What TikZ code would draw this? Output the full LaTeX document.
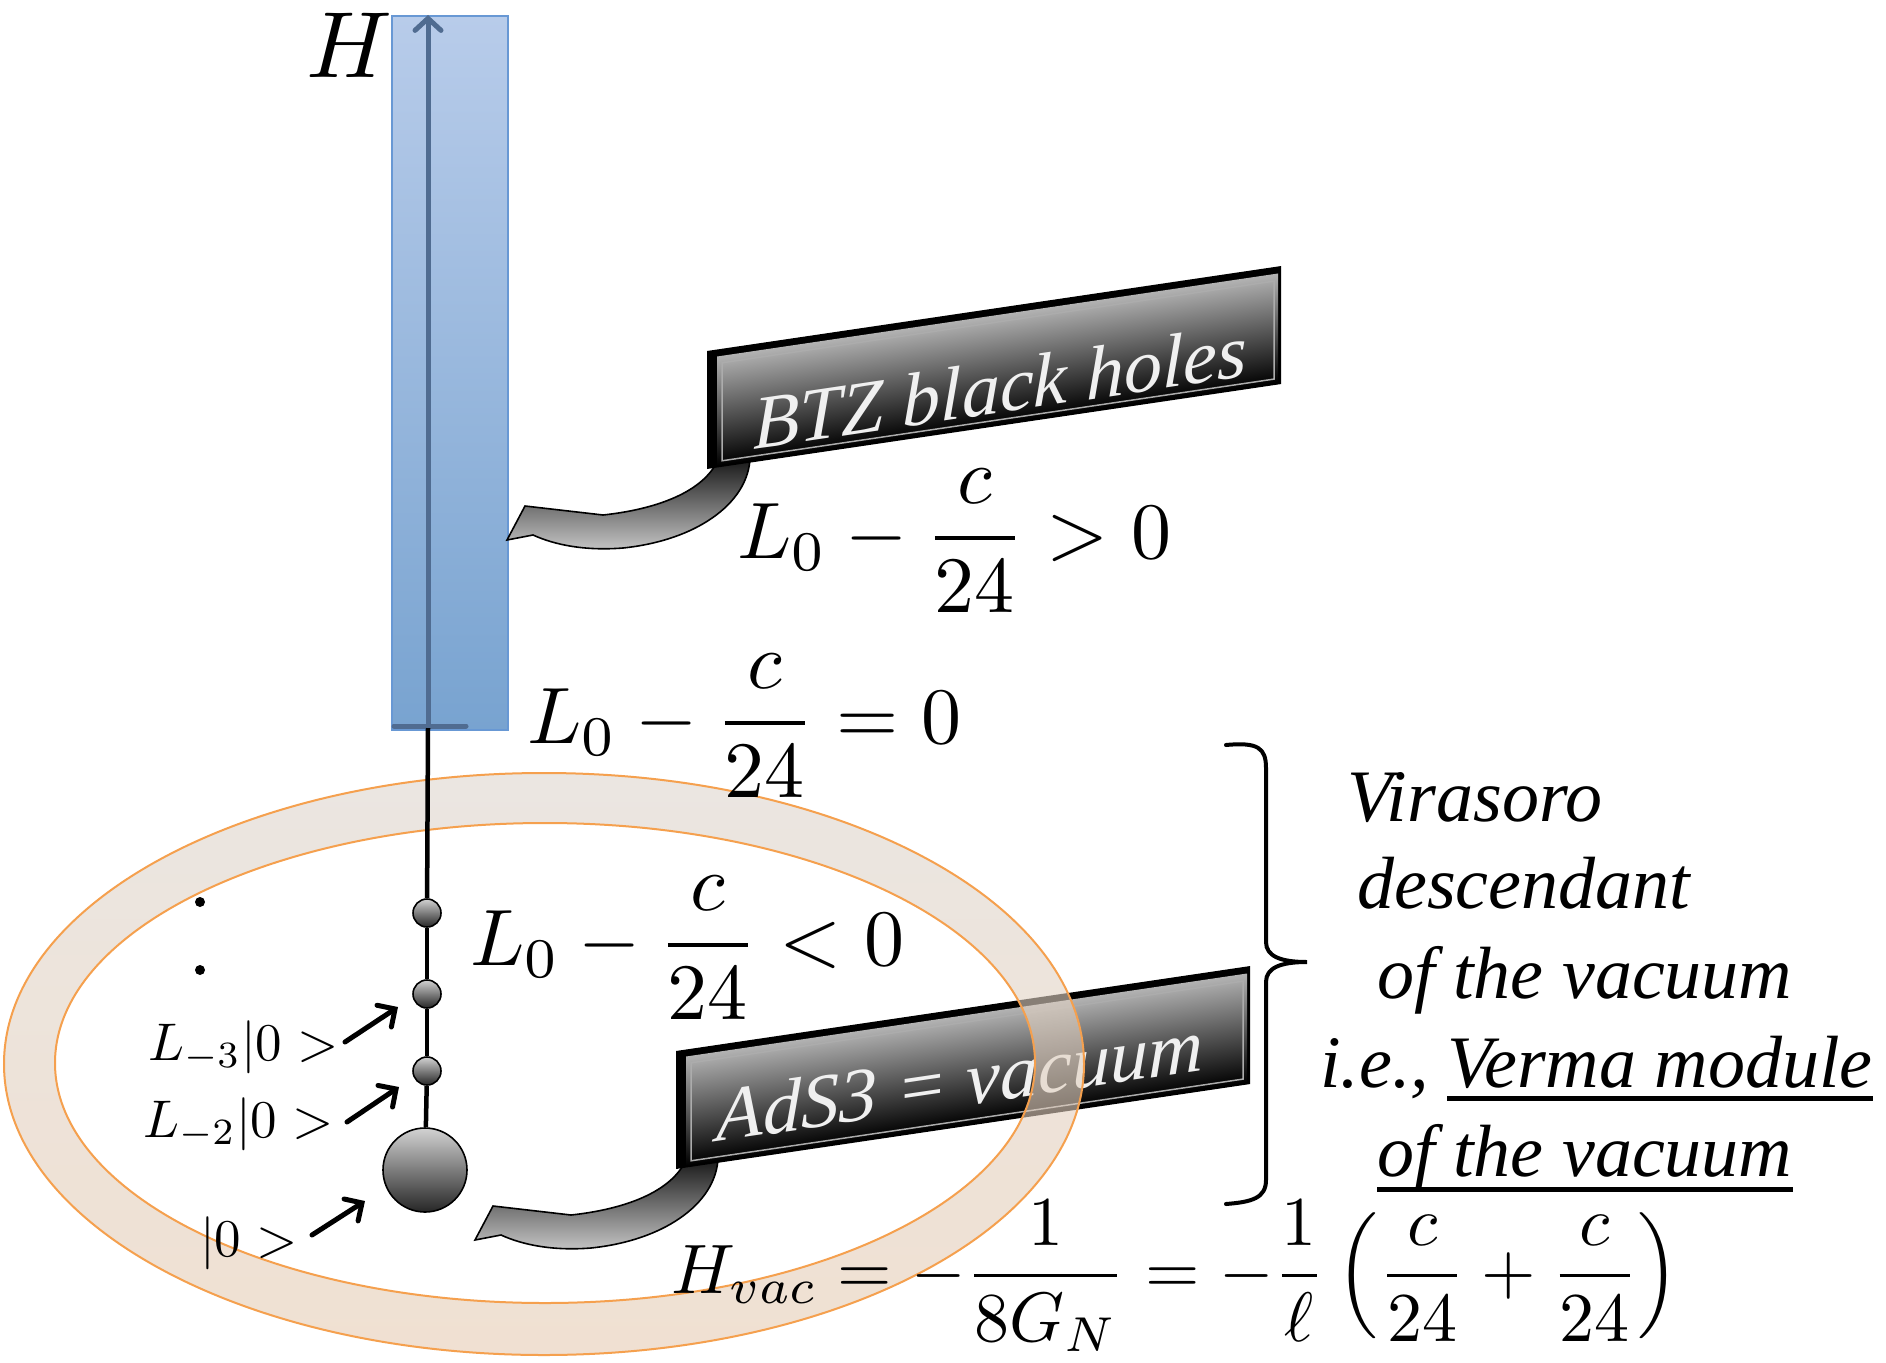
\RequirePackage{fix-cm}
\documentclass[tikz,border=0pt]{standalone}
\usepackage{graphicx}
\usepackage[no-math]{fontspec}
\newfontfamily\tnr{Liberation Serif}
\usetikzlibrary{arrows.meta,calc}
\definecolor{boxtop}{RGB}{184,204,234}
\definecolor{boxbot}{RGB}{120,163,208}
\definecolor{boxedge}{RGB}{104,152,212}
\definecolor{axisc}{RGB}{80,108,145}
\definecolor{ringedge}{RGB}{245,160,78}
\definecolor{ringtop}{RGB}{222,214,206}
\definecolor{ringbot}{RGB}{230,204,180}
\definecolor{facetop}{RGB}{178,178,178}
\definecolor{facemid}{RGB}{85,85,85}
\tikzset{
  ball/.style={circle, draw=black, line width=1.6pt, inner sep=0pt, top color=gray!35, bottom color=black!85},
  axisline/.style={line width=5pt, color=axisc, line cap=round},
  stem/.style={line width=4.5pt, color=black},
  smallarrow/.style={line width=5pt, line cap=round, -{Straight Barb[length=13pt,width=26pt,line cap=round]}},
  mathlbl/.style={anchor=base west, inner sep=0pt},
  rtext/.style={anchor=base west, inner sep=0pt, font=\tnr\itshape\fontsize{74pt}{88pt}\selectfont},
  bantext/.style={anchor=base, inner sep=0pt, yslant=0.148, text=white!94!black, font=\tnr\itshape\fontsize{76pt}{90pt}\selectfont},
  ribbon/.style={draw=black, line width=1.6pt, top color=black!95, bottom color=black!22}
}
\newcommand\bannershape{%
  \fill[black] (0,0) rectangle (574,-118);
  \shade[top color=facetop, middle color=facemid, bottom color=black] (10,-2) rectangle (571,-111);
  \draw[gray!65, line width=1.5pt] (15,-6) rectangle (567,-104);
}
\begin{document}
\begin{tikzpicture}[x=1pt,y=-1pt]
\useasboundingbox (0,0) rectangle (1886,1362);
\fill[white] (0,0) rectangle (1886,1362);

% ---- AdS3 banner with its arrow
\begin{scope}[shift={(-32,700)}]
  \shade[ribbon] (717,462) -- (750,453) .. controls (752,500) and (700,540) .. (623,548)
     .. controls (585,551) and (555,545) .. (533,535) -- (507,540) -- (525,506) -- (603,515)
     .. controls (650,510) and (700,495) .. (717,462) -- cycle;
\end{scope}
\begin{scope}[transform canvas={shift={(676,1169)}, yslant=0.148}]
  \bannershape
\end{scope}
\node[bantext] (adstext) at (960,1106) {AdS3 = vacuum};

% ---- ring
\shade[even odd rule, top color=ringtop, bottom color=ringbot, fill opacity=0.6]
  (544,1064) ellipse [x radius=540, y radius=291]
  (545,1063) ellipse [x radius=490, y radius=240];
\draw[ringedge, line width=2pt] (544,1064) ellipse [x radius=540, y radius=291];
\draw[ringedge, line width=2pt] (545,1063) ellipse [x radius=490, y radius=240];

% ---- blue box and axis
\shade[top color=boxtop, bottom color=boxbot, draw=boxedge, line width=2pt] (392,16) rectangle (508,730);
\coordinate (boxbase) at (428,728);
\coordinate (htop) at (428,15);
\coordinate (tickL) at (394,726);
\coordinate (tickR) at (466,726);
\draw[axisline, -{Straight Barb[length=12pt,width=26pt,line cap=round]}] (boxbase) -- (htop);
\draw[axisline] (tickL) -- (tickR);

\node[ball, minimum size=28pt] (s1) at (427,913) {};
\node[ball, minimum size=28pt] (s2) at (427,994) {};
\node[ball, minimum size=28pt] (s3) at (427,1071) {};
\node[ball, minimum size=84pt] (big) at (425,1170) {};
\draw[stem] (big) -- (s3);
\draw[stem] (s3) -- (s2);
\draw[stem] (s2) -- (s1);
\draw[stem] (s1) -- (boxbase);

% ---- BTZ banner with its arrow
\shade[ribbon] (717,462) -- (750,453) .. controls (752,500) and (700,540) .. (623,548)
     .. controls (585,551) and (555,545) .. (533,535) -- (507,540) -- (525,506) -- (603,515)
     .. controls (650,510) and (700,495) .. (717,462) -- cycle;
\begin{scope}[transform canvas={shift={(707,469)}, yslant=0.148}]
  \bannershape
\end{scope}
\node[bantext] (btztext) at (1000,413) {BTZ black holes};

% ---- labels
\node[mathlbl] (hlab) at (306,78) {\scalebox{9.4}{$H$}};
\node[mathlbl] (eqgt) at (737,558) {\scalebox{8}{$\displaystyle L_0-\frac{c}{24}>0$}};
\node[mathlbl] (eqeq) at (527,743) {\scalebox{8}{$\displaystyle L_0-\frac{c}{24}=0$}};
\node[mathlbl] (eqlt) at (470,965) {\scalebox{8}{$\displaystyle L_0-\frac{c}{24}<0$}};
\node[mathlbl] (hvac) at (671,1293) {\scalebox{7}{$\displaystyle H_{vac}=-\frac{1}{8G_N}=-\frac{1}{\ell}\left(\frac{c}{24}+\frac{c}{24}\right)$}};

\node[mathlbl] (lm3) at (148,1060) {\scalebox{5.3}{$L_{-3}|0>$}};
\node[mathlbl] (lm2) at (143,1137) {\scalebox{5.3}{$L_{-2}|0>$}};
\node[mathlbl] (l0) at (200,1256) {\scalebox{5.3}{$|0>$}};

\fill (200,902) circle [radius=5];
\fill (200,970) circle [radius=5];

\coordinate (a1s) at (345,1042); \coordinate (a1e) at (398,1007);
\coordinate (a2s) at (347,1122); \coordinate (a2e) at (399,1087);
\coordinate (a3s) at (312,1235); \coordinate (a3e) at (365,1201);
\draw[smallarrow] (a1s) -- (a1e);
\draw[smallarrow] (a2s) -- (a2e);
\draw[smallarrow] (a3s) -- (a3e);

% ---- brace
\draw[line width=4pt, line cap=round] (1226,745) .. controls (1258,742) and (1266,748) .. (1266,768)
  -- (1266,942) .. controls (1266,956) and (1280,962) .. (1307,962)
  .. controls (1280,962) and (1266,968) .. (1266,982)
  -- (1266,1180) .. controls (1266,1198) and (1252,1202) .. (1226,1204);

% ---- right text
\node[rtext] (r1) at (1347,821) {Virasoro};
\node[rtext] (r2) at (1357,908) {descendant};
\node[rtext] (r3) at (1377,998) {of the vacuum};
\node[rtext] (r4a) at (1320,1087) {i.e.,};
\node[rtext] (r4b) at (1447,1087) {Verma module};
\node[rtext] (r5) at (1377,1176) {of the vacuum};
\draw[line width=5pt] ([yshift=-11pt]r4b.base west) -- ([yshift=-11pt]r4b.base east);
\draw[line width=5pt] ([yshift=-13pt]r5.base west) -- ([yshift=-13pt]r5.base east);
\end{tikzpicture}
\end{document}
